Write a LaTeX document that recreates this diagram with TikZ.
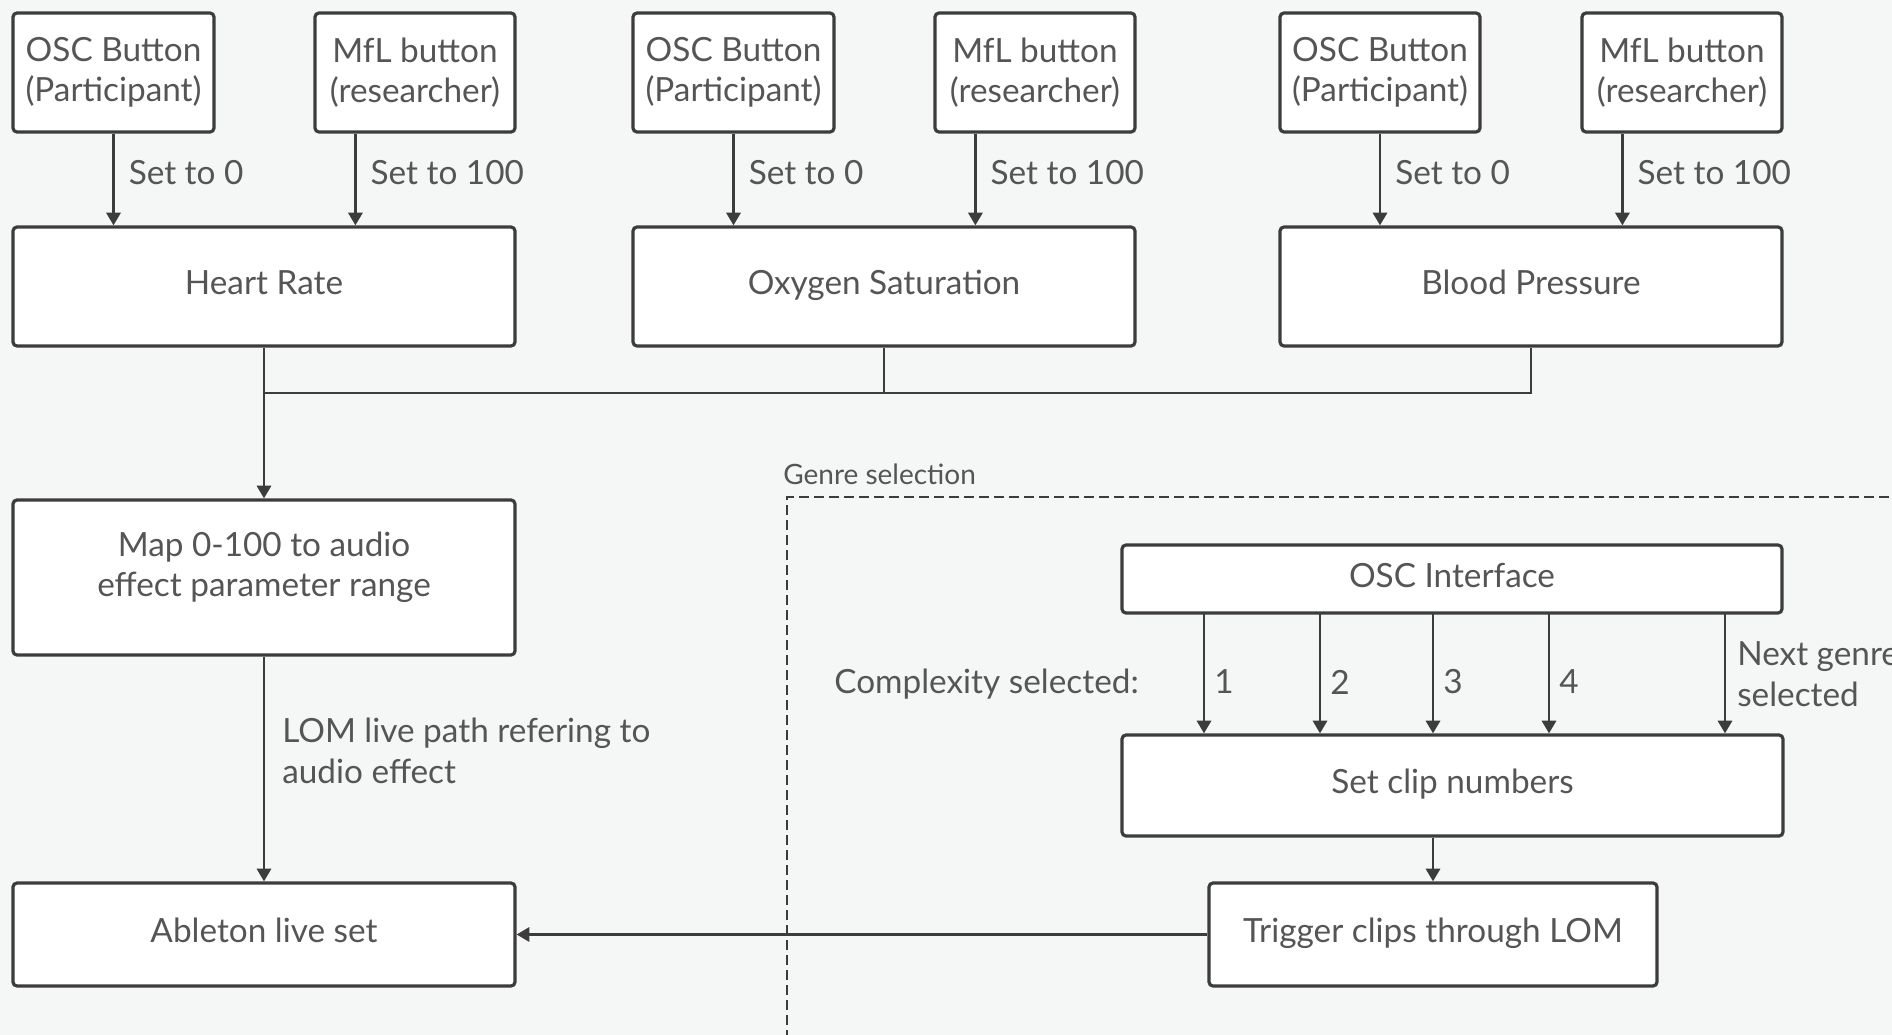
\documentclass[tikz,border=0pt]{standalone}
\usepackage{fontspec}
\setmainfont{Lato}
\usetikzlibrary{arrows.meta,calc}
\definecolor{bgc}{HTML}{F5F7F6}
\definecolor{ink}{HTML}{3C3C3C}
\definecolor{txtc}{HTML}{555555}

% box given by its corners in pixel units: name, x1, y1, x2, y2, text
\newcommand\pxbox[7][]{%
  \node[box, #1, minimum width={(#5-#3)*0.75pt}, minimum height={(#6-#4)*0.75pt}]
    (#2) at ({(#3+#5)/2},{(#4+#6)/2}) {#7};}

\begin{document}
\begin{tikzpicture}[x=0.75pt,y=-0.75pt,
  box/.style={draw=ink, line width=2.4pt, fill=white, rounded corners=3pt,
    align=center, inner sep=0pt, text=txtc, font=\fontsize{25}{30}\selectfont},
  oneline/.style={text height=18pt, text depth=6pt},
  lbl/.style={text=txtc, inner sep=0pt, align=left, font=\fontsize{25}{31}\selectfont},
  small/.style={text=txtc, inner sep=0pt, font=\fontsize{21}{25}\selectfont},
  arr/.style={draw=ink, line width=2.2pt, -{Triangle[length=9.5pt,width=10.5pt]}},
  wire/.style={draw=ink, line width=2.2pt}]

% canvas
\fill[bgc] (0,0) rectangle (1892,1035);
\useasboundingbox (0,0) rectangle (1892,1035);

% genre selection frame (runs past the right and bottom edges)
\draw[ink, line width=2.2pt, dash pattern=on 7.5pt off 3.75pt] (787,1100) -- (787,497) -- (1960,497);
\node[small, anchor=west] (genre) at (783,474) {Genre selection};

% input buttons
\pxbox{osc1}{13}{13}{214}{132}{OSC Button\\(Participant)}
\pxbox{mfl1}{315}{13}{515}{132}{MfL button\\(researcher)}
\pxbox{osc2}{633}{13}{834}{132}{OSC Button\\(Participant)}
\pxbox{mfl2}{935}{13}{1135}{132}{MfL button\\(researcher)}
\pxbox{osc3}{1280}{13}{1480}{132}{OSC Button\\(Participant)}
\pxbox{mfl3}{1582}{13}{1782}{132}{MfL button\\(researcher)}

% vital signs
\pxbox[oneline]{hr}{13}{227}{515}{346}{Heart Rate}
\pxbox[oneline]{ox}{633}{227}{1135}{346}{Oxygen Saturation}
\pxbox[oneline]{bp}{1280}{227}{1782}{346}{Blood Pressure}

% mapping and output
\pxbox{map}{13}{500}{515}{655}{}
\node[box, draw=none, fill=none] (maptext) at (264,567) {Map 0-100 to audio\\effect parameter range};
\pxbox[oneline]{live}{13}{883}{515}{986}{Ableton live set}

% genre selection
\pxbox[oneline]{osci}{1122}{545}{1782}{613}{OSC Interface}
\pxbox[oneline]{clip}{1122}{735}{1783}{836}{Set clip numbers}
\pxbox[oneline]{trig}{1209}{883}{1657}{986}{Trigger clips through LOM}

% buttons to vital signs
\foreach \g/\v in {1/hr,2/ox,3/bp}{
  \draw[arr] (osc\g.south) -- (osc\g.south |- \v.north);
  \coordinate (m\g) at ($(mfl\g.south west)+(42,0)$);
  \draw[arr] (m\g) -- (m\g |- \v.north);
  \node[lbl, anchor=west] (zero\g) at ($(osc\g.south)+(15,39)$) {Set to 0};
  \node[lbl, anchor=west] (full\g) at ($(m\g)+(15,39)$) {Set to 100};
}

% merge of the three signals
\coordinate (bus) at (hr.south |- 0,393);
\draw[wire] (ox.south) |- (bus);
\draw[wire] (bp.south) |- (bus);
\draw[arr] (hr.south) -- (map.north);
\draw[arr] (map.south) -- (live.north);
\node[lbl, anchor=west] (lom) at (282,751) {LOM live path refering to\\audio effect};

% complexity and genre choices
\foreach \x/\t in {1204/1,1320/2,1433/3,1549/4}{
  \coordinate (c\t) at (\x,613);
  \draw[arr] (c\t) -- (c\t |- clip.north);
  \node[lbl, anchor=west] (n\t) at (\x+10,682) {\t};
}
\coordinate (cg) at (1725,613);
\draw[arr] (cg) -- (cg |- clip.north);
\node[lbl, anchor=east] (cplx) at (1139,684) {Complexity selected:};
\node[lbl, anchor=west] (nextg) at (1737,674) {Next genre\\selected};

\draw[arr] (clip.south -| trig.north) -- (trig.north);
\draw[arr] (trig.west) -- (trig.west -| live.east);
\end{tikzpicture}
\end{document}
